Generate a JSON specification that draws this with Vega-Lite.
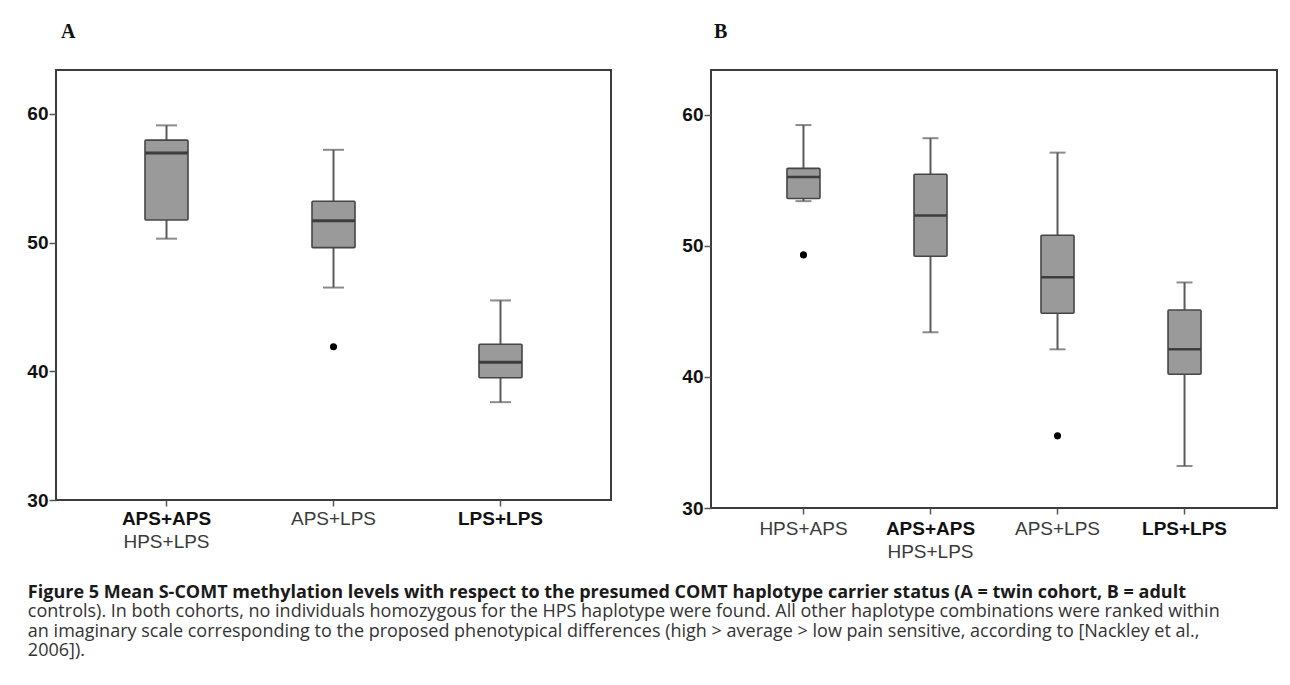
{
  "$schema": "https://vega.github.io/schema/vega-lite/v6.json",
  "background": "white",
  "padding": {"left": 25, "top": 21, "right": 0, "bottom": 0},
  "autosize": {"type": "pad"},
  "datasets": {
    "boxA": [
      {"group": "APS+APS", "lo": 50.3, "q1": 51.75, "med": 56.95, "q3": 57.95, "hi": 59.1},
      {"group": "APS+LPS", "lo": 46.5, "q1": 49.6, "med": 51.7, "q3": 53.2, "hi": 57.2},
      {"group": "LPS+LPS", "lo": 37.6, "q1": 39.5, "med": 40.7, "q3": 42.1, "hi": 45.5}
    ],
    "outA": [
      {"group": "APS+LPS", "value": 41.9}
    ],
    "boxB": [
      {"group": "HPS+APS", "lo": 53.4, "q1": 53.6, "med": 55.25, "q3": 55.9, "hi": 59.2},
      {"group": "APS+APS", "lo": 43.4, "q1": 49.2, "med": 52.3, "q3": 55.45, "hi": 58.2},
      {"group": "APS+LPS", "lo": 42.1, "q1": 44.85, "med": 47.6, "q3": 50.8, "hi": 57.1},
      {"group": "LPS+LPS", "lo": 33.2, "q1": 40.2, "med": 42.1, "q3": 45.1, "hi": 47.2}
    ],
    "outB": [
      {"group": "HPS+APS", "value": 49.3},
      {"group": "APS+LPS", "value": 35.5}
    ]
  },
  "title": {
    "text": "Figure 5 Mean S-COMT methylation levels with respect to the presumed COMT haplotype carrier status (A = twin cohort, B = adult",
    "subtitle": [
      "controls). In both cohorts, no individuals homozygous for the HPS haplotype were found. All other haplotype combinations were ranked within",
      "an imaginary scale corresponding to the proposed phenotypical differences (high > average > low pain sensitive, according to [Nackley et al.,",
      "2006])."
    ],
    "orient": "bottom",
    "anchor": "start",
    "frame": "bounds",
    "offset": 22,
    "dx": 2,
    "font": "Open Sans",
    "fontSize": 18,
    "fontWeight": "bold",
    "color": "#1a1a1a",
    "lineHeight": 19.7,
    "subtitleFont": "Open Sans",
    "subtitleFontSize": 18,
    "subtitleFontWeight": "normal",
    "subtitleColor": "#333333",
    "subtitleLineHeight": 19.7,
    "subtitlePadding": 1
  },
  "hconcat": [
    {
      "width": 555,
      "height": 430,
      "title": {"text": "A", "anchor": "start", "frame": "group", "font": "Liberation Serif", "fontSize": 20, "fontWeight": "bold", "color": "#111111", "baseline": "alphabetic", "offset": 12, "dx": 5},
      "layer": [
        {
          "data": {"name": "boxA"},
          "mark": {"type": "rule", "color": "#5a5a5a", "strokeWidth": 2},
          "encoding": {
            "x": {"field": "group", "type": "nominal", "sort": ["APS+APS", "APS+LPS", "LPS+LPS"], "title": null,
              "scale": {"type": "band", "paddingInner": 0, "paddingOuter": 0.1617},
              "axis": {"orient": "bottom", "labelAngle": 0, "domain": false, "ticks": true, "tickSize": 6, "tickColor": "#555555", "tickWidth": 1.5, "labelPadding": 3, "labelFont": "Liberation Sans", "labelFontSize": 19, "labelOverlap": false, "labelLimit": 0,
                "labelFontWeight": {"condition": {"test": "datum.value === 'APS+LPS'", "value": "normal"}, "value": "bold"},
                "labelColor": {"condition": {"test": "datum.value === 'APS+LPS'", "value": "#3a3a3a"}, "value": "#111111"}}},
            "y": {"field": "lo", "type": "quantitative", "title": null,
              "scale": {"domain": [30, 63.4], "nice": false, "zero": false},
              "axis": {"values": [30, 40, 50, 60], "domain": false, "grid": false, "tickSize": 7, "tickColor": "#555555", "tickWidth": 1.5, "labelFont": "Liberation Sans", "labelFontSize": 19, "labelFontWeight": "bold", "labelColor": "#111111", "labelPadding": 1}},
            "y2": {"field": "hi"}
          }
        },
        {
          "data": {"name": "boxA"},
          "mark": {"type": "tick", "color": "#5a5a5a", "size": 21, "thickness": 2},
          "encoding": {
            "x": {"field": "group", "type": "nominal", "sort": ["APS+APS", "APS+LPS", "LPS+LPS"], "title": null, "axis": null},
            "y": {"field": "lo", "type": "quantitative", "title": null}
          }
        },
        {
          "data": {"name": "boxA"},
          "mark": {"type": "tick", "color": "#5a5a5a", "size": 21, "thickness": 2},
          "encoding": {
            "x": {"field": "group", "type": "nominal", "sort": ["APS+APS", "APS+LPS", "LPS+LPS"], "title": null, "axis": null},
            "y": {"field": "hi", "type": "quantitative", "title": null}
          }
        },
        {
          "data": {"name": "boxA"},
          "mark": {"type": "bar", "size": 43, "fill": "#9a9a9a", "stroke": "#454545", "strokeWidth": 1.6, "cornerRadius": 1},
          "encoding": {
            "x": {"field": "group", "type": "nominal", "sort": ["APS+APS", "APS+LPS", "LPS+LPS"], "title": null, "axis": null},
            "y": {"field": "q1", "type": "quantitative", "title": null},
            "y2": {"field": "q3"}
          }
        },
        {
          "data": {"name": "boxA"},
          "mark": {"type": "tick", "color": "#151515", "size": 42, "thickness": 3},
          "encoding": {
            "x": {"field": "group", "type": "nominal", "sort": ["APS+APS", "APS+LPS", "LPS+LPS"], "title": null,
              "axis": {"orient": "bottom", "labelAngle": 0, "domain": false, "ticks": false, "tickSize": 0, "labelPadding": 32, "labelFont": "Liberation Sans", "labelFontSize": 19, "labelFontWeight": "normal", "labelColor": "#3a3a3a", "labelOverlap": false, "labelLimit": 0,
                "labelExpr": "datum.value === 'APS+APS' ? 'HPS+LPS' : ''"}},
            "y": {"field": "med", "type": "quantitative", "title": null}
          }
        },
        {
          "data": {"name": "outA"},
          "mark": {"type": "point", "filled": true, "color": "#000000", "opacity": 1, "size": 50},
          "encoding": {
            "x": {"field": "group", "type": "nominal", "sort": ["APS+APS", "APS+LPS", "LPS+LPS"], "title": null, "axis": null},
            "y": {"field": "value", "type": "quantitative", "title": null}
          }
        }
      ],
      "resolve": {"axis": {"x": "independent"}}
    },
    {
      "width": 566,
      "height": 438,
      "title": {"text": "B", "anchor": "start", "frame": "group", "font": "Liberation Serif", "fontSize": 20, "fontWeight": "bold", "color": "#111111", "baseline": "alphabetic", "offset": 12, "dx": 3},
      "layer": [
        {
          "data": {"name": "boxB"},
          "mark": {"type": "rule", "color": "#5a5a5a", "strokeWidth": 2},
          "encoding": {
            "x": {"field": "group", "type": "nominal", "sort": ["HPS+APS", "APS+APS", "APS+LPS", "LPS+LPS"], "title": null,
              "scale": {"type": "band", "paddingInner": 0, "paddingOuter": 0.228},
              "axis": {"orient": "bottom", "labelAngle": 0, "domain": false, "ticks": true, "tickSize": 6, "tickColor": "#555555", "tickWidth": 1.5, "labelPadding": 5, "labelFont": "Liberation Sans", "labelFontSize": 19, "labelOverlap": false, "labelLimit": 0,
                "labelFontWeight": {"condition": {"test": "datum.value === 'APS+APS' || datum.value === 'LPS+LPS'", "value": "bold"}, "value": "normal"},
                "labelColor": {"condition": {"test": "datum.value === 'APS+APS' || datum.value === 'LPS+LPS'", "value": "#111111"}, "value": "#3a3a3a"}}},
            "y": {"field": "lo", "type": "quantitative", "title": null,
              "scale": {"domain": [30, 63.4], "nice": false, "zero": false},
              "axis": {"values": [30, 40, 50, 60], "domain": false, "grid": false, "tickSize": 7, "tickColor": "#555555", "tickWidth": 1.5, "labelFont": "Liberation Sans", "labelFontSize": 19, "labelFontWeight": "bold", "labelColor": "#111111", "labelPadding": 1}},
            "y2": {"field": "hi"}
          }
        },
        {
          "data": {"name": "boxB"},
          "mark": {"type": "tick", "color": "#5a5a5a", "size": 16, "thickness": 2},
          "encoding": {
            "x": {"field": "group", "type": "nominal", "sort": ["HPS+APS", "APS+APS", "APS+LPS", "LPS+LPS"], "title": null, "axis": null},
            "y": {"field": "lo", "type": "quantitative", "title": null}
          }
        },
        {
          "data": {"name": "boxB"},
          "mark": {"type": "tick", "color": "#5a5a5a", "size": 16, "thickness": 2},
          "encoding": {
            "x": {"field": "group", "type": "nominal", "sort": ["HPS+APS", "APS+APS", "APS+LPS", "LPS+LPS"], "title": null, "axis": null},
            "y": {"field": "hi", "type": "quantitative", "title": null}
          }
        },
        {
          "data": {"name": "boxB"},
          "mark": {"type": "bar", "size": 33, "fill": "#9a9a9a", "stroke": "#454545", "strokeWidth": 1.6, "cornerRadius": 1},
          "encoding": {
            "x": {"field": "group", "type": "nominal", "sort": ["HPS+APS", "APS+APS", "APS+LPS", "LPS+LPS"], "title": null, "axis": null},
            "y": {"field": "q1", "type": "quantitative", "title": null},
            "y2": {"field": "q3"}
          }
        },
        {
          "data": {"name": "boxB"},
          "mark": {"type": "tick", "color": "#151515", "size": 32, "thickness": 2.5},
          "encoding": {
            "x": {"field": "group", "type": "nominal", "sort": ["HPS+APS", "APS+APS", "APS+LPS", "LPS+LPS"], "title": null,
              "axis": {"orient": "bottom", "labelAngle": 0, "domain": false, "ticks": false, "tickSize": 0, "labelPadding": 34, "labelFont": "Liberation Sans", "labelFontSize": 19, "labelFontWeight": "normal", "labelColor": "#3a3a3a", "labelOverlap": false, "labelLimit": 0,
                "labelExpr": "datum.value === 'APS+APS' ? 'HPS+LPS' : ''"}},
            "y": {"field": "med", "type": "quantitative", "title": null}
          }
        },
        {
          "data": {"name": "outB"},
          "mark": {"type": "point", "filled": true, "color": "#000000", "opacity": 1, "size": 50},
          "encoding": {
            "x": {"field": "group", "type": "nominal", "sort": ["HPS+APS", "APS+APS", "APS+LPS", "LPS+LPS"], "title": null, "axis": null},
            "y": {"field": "value", "type": "quantitative", "title": null}
          }
        }
      ],
      "resolve": {"axis": {"x": "independent"}}
    }
  ],
  "spacing": 68,
  "config": {
    "view": {"stroke": "#3c3c3c", "strokeWidth": 2},
    "axis": {"grid": false}
  }
}
